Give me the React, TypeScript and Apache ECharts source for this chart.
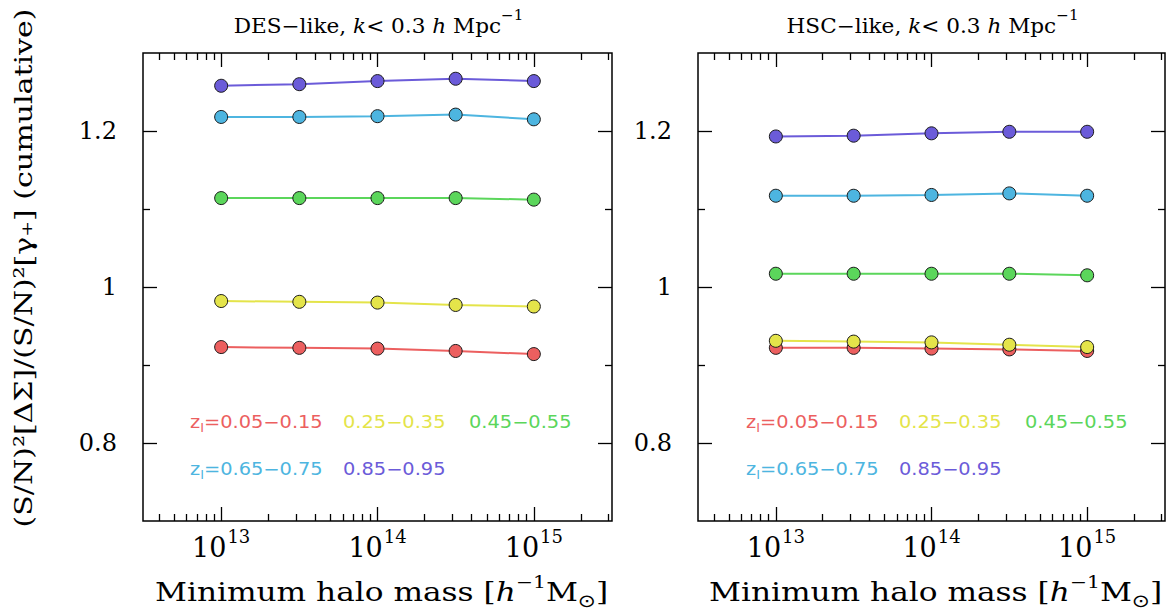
import React, { useEffect, useRef } from "react";
import * as echarts from "echarts";

// log10 of minimum halo mass [h^-1 Msun]
const logMass = [13, 13.5, 14, 14.5, 15];

const seriesNames = ["0.05-0.15", "0.25-0.35", "0.45-0.55", "0.65-0.75", "0.85-0.95"];
const seriesColors = ["#ec5f5f", "#e4e44a", "#5bd65b", "#4db5e0", "#6b5bd9"];

// DES-like panel
const desRed = [0.923, 0.922, 0.921, 0.918, 0.914];
const desYellow = [0.982, 0.981, 0.980, 0.977, 0.975];
const desGreen = [1.114, 1.114, 1.114, 1.114, 1.112];
const desCyan = [1.218, 1.218, 1.219, 1.221, 1.215];
const desPurple = [1.258, 1.260, 1.264, 1.267, 1.264];

// HSC-like panel
const hscRed = [0.922, 0.922, 0.921, 0.920, 0.918];
const hscYellow = [0.931, 0.930, 0.929, 0.926, 0.923];
const hscGreen = [1.017, 1.017, 1.017, 1.017, 1.015];
const hscCyan = [1.117, 1.117, 1.118, 1.120, 1.117];
const hscPurple = [1.193, 1.194, 1.197, 1.199, 1.199];

const panelTitles = ["DES\u2212like", "HSC\u2212like"];
const xMajorTicks = [13, 14, 15];
const xMinorMultipliers = [2, 3, 4, 5, 6, 7, 8, 9];
const xDecades = [12, 13, 14, 15];
const yMajorTicks = [0.8, 1.0, 1.2];
const yMinorTicks = [0.9, 1.1];

const X_MIN = 12.5, X_MAX = 15.5, Y_MIN = 0.7, Y_MAX = 1.3;

const xMinorTicks: number[] = [];
xDecades.forEach((d) =>
  xMinorMultipliers.forEach((m) => {
    const v = d + Math.log10(m);
    if (v > X_MIN && v < X_MAX) xMinorTicks.push(v);
  })
);

const SERIF = "'DejaVu Serif', 'Liberation Serif', serif";
const SANS = "'DejaVu Sans', 'Liberation Sans', sans-serif";

const grids = [
  { left: 143, top: 53, width: 469, height: 468 },
  { left: 698, top: 53, width: 467, height: 468 },
];

export default function App() {
  const ref = useRef<HTMLDivElement>(null);
  useEffect(() => {
    if (!ref.current) return;
    const chart = echarts.init(ref.current, null, { renderer: "svg" });
    const panels = [
      [desRed, desYellow, desGreen, desCyan, desPurple],
      [hscRed, hscYellow, hscGreen, hscCyan, hscPurple],
    ];

    const xAxes: any[] = [];
    const yAxes: any[] = [];
    grids.forEach((_, gi) => {
      const tickStyle = { color: "#000", width: 1.3 };
      const baseX = {
        gridIndex: gi, type: "value", min: X_MIN, max: X_MAX,
        axisLine: { show: false }, splitLine: { show: false },
      };
      xAxes.push({
        ...baseX, position: "bottom",
        axisTick: { show: true, inside: true, length: 14, customValues: xMajorTicks, lineStyle: tickStyle },
        axisLabel: {
          show: true, customValues: xMajorTicks, margin: 6,
          formatter: (v: number) => `{b|10}{s|${Math.round(v)}}`,
          rich: {
            b: { fontFamily: SERIF, fontSize: 27, color: "#000", lineHeight: 34, verticalAlign: "bottom" },
            s: { fontFamily: SERIF, fontSize: 18, color: "#000", lineHeight: 34, verticalAlign: "top", padding: [0, 0, 0, 1] },
          },
        },
      });
      xAxes.push({
        ...baseX, position: "bottom",
        axisTick: { show: true, inside: true, length: 7, customValues: xMinorTicks, lineStyle: tickStyle },
        axisLabel: { show: false },
      });
      xAxes.push({
        ...baseX, position: "top",
        axisTick: { show: true, inside: true, length: 14, customValues: xMajorTicks, lineStyle: tickStyle },
        axisLabel: { show: false },
      });
      xAxes.push({
        ...baseX, position: "top",
        axisTick: { show: true, inside: true, length: 7, customValues: xMinorTicks, lineStyle: tickStyle },
        axisLabel: { show: false },
      });
      const baseY = {
        gridIndex: gi, type: "value", min: Y_MIN, max: Y_MAX,
        axisLine: { show: false }, splitLine: { show: false },
      };
      yAxes.push({
        ...baseY, position: "left",
        axisTick: { show: true, inside: true, length: 14, customValues: yMajorTicks, lineStyle: tickStyle },
        axisLabel: {
          show: true, customValues: yMajorTicks, margin: 26,
          formatter: (v: number) => (Math.abs(v - 1) < 1e-9 ? "1" : v.toFixed(1)),
          fontFamily: SERIF, fontSize: 24, color: "#000",
        },
      });
      yAxes.push({
        ...baseY, position: "left",
        axisTick: { show: true, inside: true, length: 7, customValues: yMinorTicks, lineStyle: tickStyle },
        axisLabel: { show: false },
      });
      yAxes.push({
        ...baseY, position: "right",
        axisTick: { show: true, inside: true, length: 14, customValues: yMajorTicks, lineStyle: tickStyle },
        axisLabel: { show: false },
      });
      yAxes.push({
        ...baseY, position: "right",
        axisTick: { show: true, inside: true, length: 7, customValues: yMinorTicks, lineStyle: tickStyle },
        axisLabel: { show: false },
      });
    });

    const series: any[] = [];
    panels.forEach((vals, gi) => {
      vals.forEach((arr, si) => {
        series.push({
          type: "line",
          name: seriesNames[si] + "-" + gi,
          xAxisIndex: gi * 4,
          yAxisIndex: gi * 4,
          data: arr.map((v, i) => [logMass[i], v]),
          symbol: "circle",
          symbolSize: 13,
          lineStyle: { color: seriesColors[si], width: 2 },
          itemStyle: { color: seriesColors[si], borderColor: "#1a1a1a", borderWidth: 1 },
          z: 3 + si,
        });
      });
    });

    const graphics: any[] = [];
    grids.forEach((g, gi) => {
      const cx = g.left + g.width / 2;
      graphics.push({
        type: "text", x: cx + 1, y: 22, scaleX: 1.08,
        style: {
          text: `{n|${panelTitles[gi]}, }{i|k}{n|< 0.3 }{i|h}{n| Mpc}{s|\u22121}`,
          align: "center", verticalAlign: "middle",
          rich: {
            n: { fontFamily: SERIF, fontSize: 20, fill: "#000", lineHeight: 28, verticalAlign: "bottom" },
            i: { fontFamily: SERIF, fontSize: 20, fontStyle: "italic", fill: "#000", lineHeight: 28, verticalAlign: "bottom" },
            s: { fontFamily: SERIF, fontSize: 14, fill: "#000", lineHeight: 28, verticalAlign: "top" },
          },
        },
      });
      graphics.push({
        type: "text", x: cx + 4, y: 592, scaleX: 1.2,
        style: {
          text: `{n|Minimum halo mass [}{i|h}{s|\u22121}{n|M}{b|\u2299}{n|]}`,
          align: "center", verticalAlign: "middle",
          rich: {
            n: { fontFamily: SERIF, fontSize: 26, fill: "#000", lineHeight: 36, verticalAlign: "middle" },
            i: { fontFamily: SERIF, fontSize: 26, fontStyle: "italic", fill: "#000", lineHeight: 36, verticalAlign: "middle" },
            s: { fontFamily: SERIF, fontSize: 17, fill: "#000", lineHeight: 36, verticalAlign: "top" },
            b: { fontFamily: "'DejaVu Sans', sans-serif", fontSize: 18, fill: "#000", lineHeight: 36, verticalAlign: "bottom" },
          },
        },
      });
      const off = gi === 0 ? 0 : 556;
      const legendRows = [
        { y: 422, items: [{ x: 190, si: 0, z: true }, { x: 343, si: 1, z: false }, { x: 469, si: 2, z: false }] },
        { y: 469, items: [{ x: 190, si: 3, z: true }, { x: 343, si: 4, z: false }] },
      ];
      legendRows.forEach((row) =>
        row.items.forEach((it) => {
          const col = seriesColors[it.si];
          const label = seriesNames[it.si].replace("-", "\u2212");
          graphics.push({
            type: "text", x: it.x + off, y: row.y, scaleX: 1.14,
            style: {
              text: it.z ? `{n|z}{l|l}{n|=${label}}` : `{n|${label}}`,
              align: "left", verticalAlign: "middle",
              rich: {
                n: { fontFamily: SANS, fontSize: 17, fill: col, lineHeight: 24, verticalAlign: "middle" },
                l: { fontFamily: SANS, fontSize: 12, fill: col, lineHeight: 24, verticalAlign: "bottom" },
              },
            },
          });
        })
      );
    });
    graphics.push({
      type: "text", x: 23, y: 268, rotation: Math.PI / 2, scaleX: 1.2,
      style: {
        text: "(S/N)\u00b2[\u0394\u03a3]/(S/N)\u00b2[\u03b3\u208a] (cumulative)",
        align: "center", verticalAlign: "middle",
        fontFamily: SERIF, fontSize: 25, fill: "#000",
      },
    });

    chart.setOption({
      animation: false,
      backgroundColor: "#fff",
      grid: grids.map((g) => ({ ...g, show: true, borderColor: "#000", borderWidth: 1.5, backgroundColor: "transparent" })),
      xAxis: xAxes,
      yAxis: yAxes,
      series,
      graphic: graphics,
    });
    return () => chart.dispose();
  }, []);
  return <div ref={ref} style={{ position: "absolute", left: 0, top: 0, width: 1172, height: 615 }} />;
}
